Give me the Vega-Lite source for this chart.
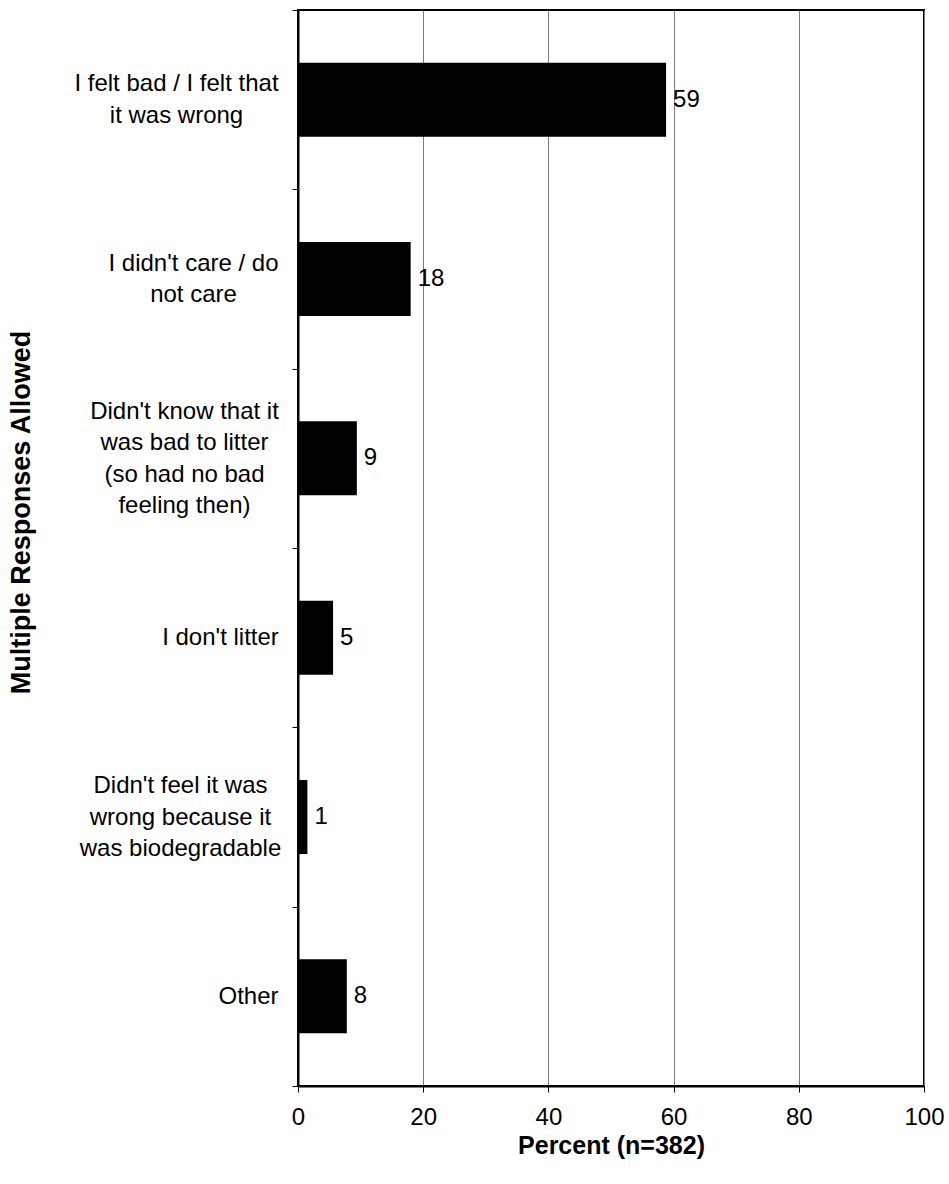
{
  "$schema": "https://vega.github.io/schema/vega-lite/v6.json",
  "width": 626,
  "height": 1076,
  "autosize": "none",
  "padding": {"left": 298, "top": 10, "right": 25, "bottom": 98},
  "background": "white",
  "config": {
    "font": "Liberation Sans",
    "view": {"stroke": "black", "strokeWidth": 2}
  },
  "data": {
    "values": [
      {"category": "I felt bad / I felt that|it was wrong", "pct": 58.8, "lab": "59"},
      {"category": "I didn't care / do|not care", "pct": 18.0, "lab": "18"},
      {"category": "Didn't know that it|was bad to litter|(so had no bad|feeling then)", "pct": 9.4, "lab": "9"},
      {"category": "I don't litter", "pct": 5.6, "lab": "5"},
      {"category": "Didn't feel it was|wrong because it|was biodegradable", "pct": 1.5, "lab": "1"},
      {"category": "Other", "pct": 7.8, "lab": "8"}
    ]
  },
  "encoding": {
    "y": {
      "field": "category",
      "type": "nominal",
      "sort": null,
      "scale": {"paddingInner": 0, "paddingOuter": 0},
      "axis": {
        "title": "Multiple Responses Allowed",
        "titleFontSize": 27,
        "titleFontWeight": "bold",
        "titleColor": "black",
        "titlePadding": 63,
        "titleY": 502,
        "labelExpr": "split(datum.label, '|')",
        "labelFontSize": 24,
        "labelColor": "black",
        "labelLimit": 0,
        "labelLineHeight": 31.5,
        "labelAlign": "center",
        "labelBaseline": "middle",
        "labelPadding": {
          "condition": [
            {"test": "indexof(datum.label, 'I felt') == 0", "value": 116},
            {"test": "indexof(datum.label, 'I didn') == 0", "value": 99},
            {"test": "indexof(datum.label, 'know that') > 0", "value": 108},
            {"test": "indexof(datum.label, 'I don') == 0", "value": 72},
            {"test": "indexof(datum.label, 'feel it') > 0", "value": 112}
          ],
          "value": 44
        },
        "labelOffset": {
          "condition": [
            {"test": "length(split(datum.label, '|')) == 2", "value": -15.75},
            {"test": "length(split(datum.label, '|')) == 3", "value": -31.5},
            {"test": "length(split(datum.label, '|')) == 4", "value": -47.25}
          ],
          "value": 0
        },
        "tickSize": 6,
        "tickColor": "black",
        "tickWidth": 1,
        "tickBand": "extent",
        "domainColor": "black",
        "domainWidth": 2,
        "grid": false
      }
    }
  },
  "layer": [
    {
      "mark": {"type": "bar", "color": "black", "height": {"band": 0.413}},
      "encoding": {
        "x": {
          "field": "pct",
          "type": "quantitative",
          "scale": {"domain": [0, 100], "nice": false},
          "axis": {
            "title": "Percent (n=382)",
            "titleFontSize": 25,
            "titleFontWeight": "bold",
            "titleColor": "black",
            "titlePadding": 4,
            "values": [0, 20, 40, 60, 80, 100],
            "labelFontSize": 24,
            "labelColor": "black",
            "labelPadding": 13,
            "labelFlush": false,
            "tickSize": 6,
            "tickColor": "black",
            "domainColor": "black",
            "domainWidth": 2,
            "grid": true,
            "gridColor": "#7a7a7a",
            "gridWidth": 1
          }
        }
      }
    },
    {
      "mark": {"type": "text", "align": "left", "baseline": "middle", "dx": 7, "fontSize": 24, "color": "black"},
      "encoding": {
        "x": {"field": "pct", "type": "quantitative"},
        "text": {"field": "lab"}
      }
    }
  ]
}
